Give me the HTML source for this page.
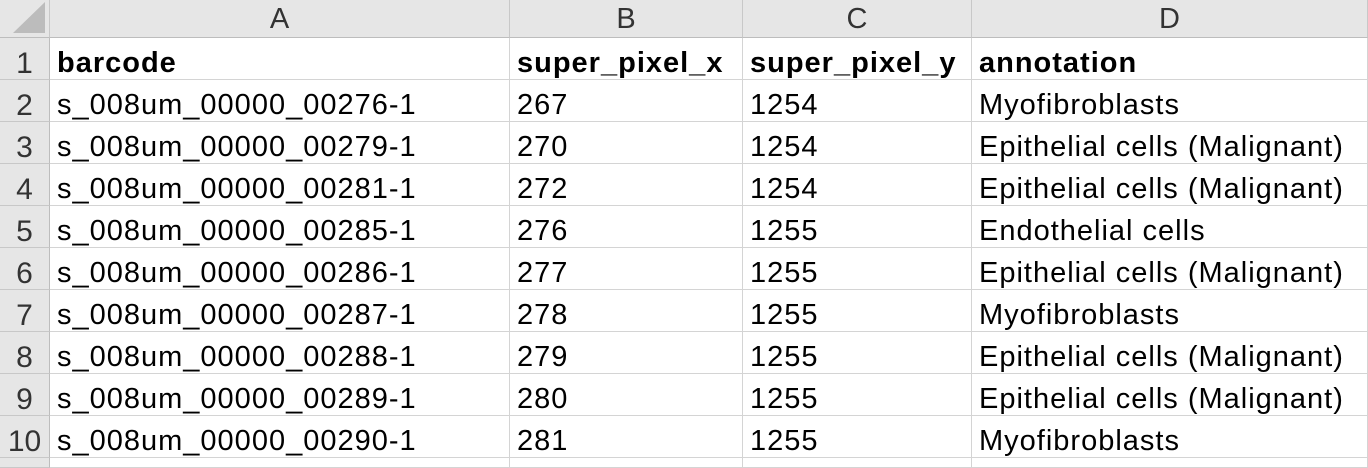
<!DOCTYPE html>
<html><head><meta charset="utf-8"><style>
body{margin:0;width:1368px;height:461px;background:#fff;overflow:hidden;font-family:"Liberation Sans","Noto Sans CJK SC",sans-serif;position:relative}
.c{position:absolute;box-sizing:border-box;border-right:1px solid #d4d4d4;border-bottom:1px solid #d4d4d4;font-size:29px;letter-spacing:1px;color:#000;line-height:41px;padding-left:7px;padding-top:5px;white-space:nowrap;overflow:hidden}
.h{background:#e6e6e6;color:#333;text-align:center;padding-left:0;padding-top:1px;letter-spacing:0;border-right:1px solid #c8c8c8;border-bottom:1px solid #bdbdbd}
.r{background:#e6e6e6;color:#333;text-align:center;padding-left:0;letter-spacing:0;font-size:30px;border-right:1px solid #bdbdbd;border-bottom:1px solid #c8c8c8}
.b{font-weight:bold}
</style></head><body>
<div class="c h" style="left:0;top:0;width:50px;height:38px"><svg width="48" height="36" style="position:absolute;left:0;top:0"><polygon points="13,33 45,33 45,2" fill="#bcbcbc"/></svg></div>
<div id="grid"></div>
<script>
const cols=[["A",50,460],["B",510,233],["C",743,229],["D",972,396]];
const rows=[["barcode","super_pixel_x","super_pixel_y","annotation"],
["s_008um_00000_00276-1","267","1254","Myofibroblasts"],
["s_008um_00000_00279-1","270","1254","Epithelial cells (Malignant)"],
["s_008um_00000_00281-1","272","1254","Epithelial cells (Malignant)"],
["s_008um_00000_00285-1","276","1255","Endothelial cells"],
["s_008um_00000_00286-1","277","1255","Epithelial cells (Malignant)"],
["s_008um_00000_00287-1","278","1255","Myofibroblasts"],
["s_008um_00000_00288-1","279","1255","Epithelial cells (Malignant)"],
["s_008um_00000_00289-1","280","1255","Epithelial cells (Malignant)"],
["s_008um_00000_00290-1","281","1255","Myofibroblasts"]];
const g=document.getElementById('grid');
function mk(cls,x,y,w,h,t){const d=document.createElement('div');d.className=cls;d.style.cssText=`left:${x}px;top:${y}px;width:${w}px;height:${h}px`;d.textContent=t;g.appendChild(d);return d;}
cols.forEach(c=>{const d=mk('c h',c[1],0,c[2],38,c[0]);d.style.lineHeight='37px';

});
rows.forEach((r,i)=>{const y=38+42*i;
const n=mk('c r',0,y,50,42,String(i+1));


r.forEach((t,j)=>{const d=mk('c'+(i==0?' b':''),cols[j][1],y,cols[j][2],42,t);

});});
const f=mk('c r',0,458,50,10,'');
cols.forEach(c=>{const d=mk('c',c[1],458,c[2],10,'');});
</script>
</body></html>
